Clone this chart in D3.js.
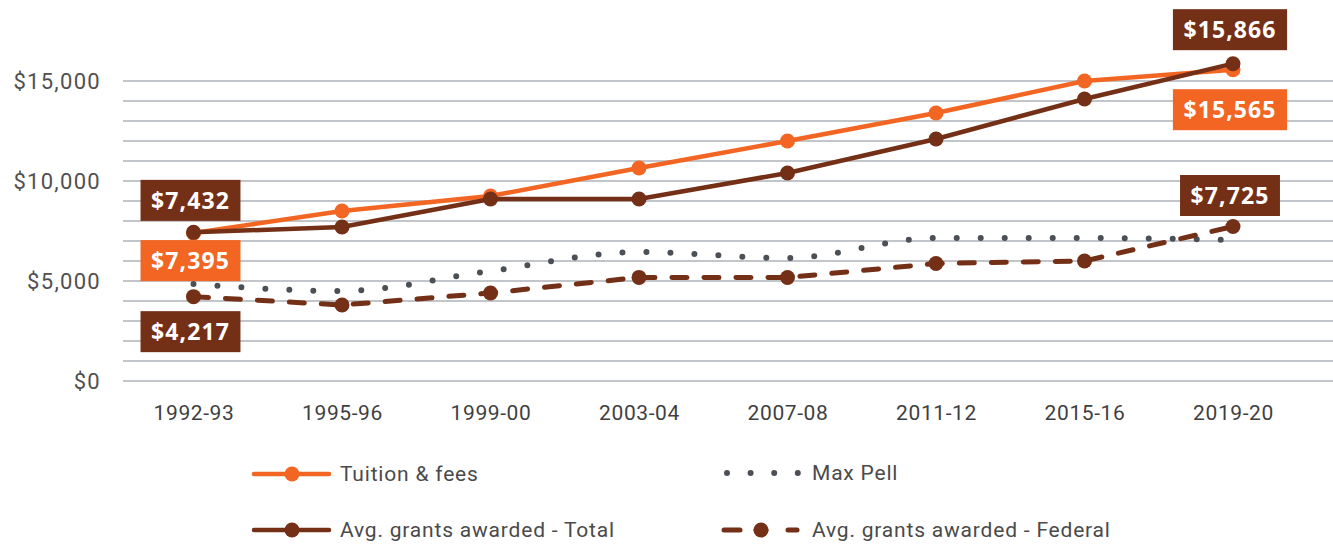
<!DOCTYPE html>
<html>
<head>
<meta charset="utf-8">
<script src="https://cdn.jsdelivr.net/npm/d3@7"></script>
<style>
  html, body { margin: 0; padding: 0; background: #fff; }
  svg { display: block; }
</style>
</head>
<body>
<svg id="chart" width="1333" height="544"></svg>
<script>
// Academic years on the x axis
const years = ["1992-93", "1995-96", "1999-00", "2003-04", "2007-08", "2011-12", "2015-16", "2019-20"];

// Dollar values per year
const tuition = [7395, 8500, 9250, 10650, 12000, 13400, 15000, 15565];
const grantsTotal = [7432, 7700, 9100, 9100, 10400, 12100, 14100, 15866];
const grantsFederal = [4217, 3800, 4400, 5180, 5175, 5875, 6000, 7725];
const maxPell = [4850, 4500, 5500, 6450, 6150, 7150, 7150, 7050];

// Y axis tick labels
const yTicks = [0, 5000, 10000, 15000];

const orange = "#f26522";
const brown = "#742f17";
const pellGray = "#4b5056";
const textGray = "#505050";

const svg = d3.select("#chart");

const x = d3.scalePoint().domain(years).range([193.5, 1233]);
const y = d3.scaleLinear().domain([0, 15000]).range([381, 81]);

// Horizontal gridlines every $1,000
svg.append("g")
  .selectAll("line")
  .data(d3.range(0, 15001, 1000))
  .join("line")
  .attr("x1", 123).attr("x2", 1333)
  .attr("y1", d => y(d)).attr("y2", d => y(d))
  .attr("stroke", "#858c94")
  .attr("stroke-width", 1.2);

// Y axis labels
const fmt = d3.format("$,");
svg.append("g")
  .selectAll("text")
  .data(yTicks)
  .join("text")
  .attr("x", 101)
  .attr("y", d => y(d))
  .attr("dy", "0.35em")
  .attr("text-anchor", "end")
  .attr("font-family", "Roboto, sans-serif")
  .attr("font-size", 22)
  .attr("letter-spacing", 1.3)
  .attr("fill", textGray)
  .text(d => fmt(d));

// X axis labels
const xAxis = d3.axisBottom(x).tickSize(0).tickPadding(0);
const gx = svg.append("g").attr("transform", "translate(0,413)").call(xAxis);
gx.select(".domain").remove();
gx.selectAll("text")
  .attr("dy", "0.35em")
  .attr("font-family", "Roboto, sans-serif")
  .attr("font-size", 21)
  .attr("letter-spacing", 0.6)
  .attr("fill", "#3f3f3f");

const line = d3.line().x((d, i) => x(years[i])).y(d => y(d));
const smooth = d3.line().x((d, i) => x(years[i])).y(d => y(d)).curve(d3.curveMonotoneX);

// Max Pell: dotted, smooth
svg.append("path")
  .datum(maxPell)
  .attr("d", smooth)
  .attr("fill", "none")
  .attr("stroke", pellGray)
  .attr("stroke-width", 6)
  .attr("stroke-linecap", "round")
  .attr("stroke-dasharray", "0 24");

// Federal grants: dashed
svg.append("path")
  .datum(grantsFederal)
  .attr("d", line)
  .attr("fill", "none")
  .attr("stroke", brown)
  .attr("stroke-width", 5)
  .attr("stroke-linecap", "round")
  .attr("stroke-dasharray", "15 17");
svg.append("g").selectAll("circle")
  .data(grantsFederal).join("circle")
  .attr("cx", (d, i) => x(years[i])).attr("cy", d => y(d))
  .attr("r", 7.5).attr("fill", brown);

// Tuition & fees
svg.append("path")
  .datum(tuition)
  .attr("d", line)
  .attr("fill", "none")
  .attr("stroke", orange)
  .attr("stroke-width", 4.5);
svg.append("g").selectAll("circle")
  .data(tuition).join("circle")
  .attr("cx", (d, i) => x(years[i])).attr("cy", d => y(d))
  .attr("r", 7.5).attr("fill", orange);

// Total grants
svg.append("path")
  .datum(grantsTotal)
  .attr("d", line)
  .attr("fill", "none")
  .attr("stroke", brown)
  .attr("stroke-width", 4.5);
svg.append("g").selectAll("circle")
  .data(grantsTotal).join("circle")
  .attr("cx", (d, i) => x(years[i])).attr("cy", d => y(d))
  .attr("r", 7.5).attr("fill", brown);

// Value callouts at first and last years
const callouts = [
  { value: grantsTotal[0], year: years[0], color: brown, dy: -32 },
  { value: tuition[0], year: years[0], color: orange, dy: 27.5 },
  { value: grantsFederal[0], year: years[0], color: brown, dy: 35 },
  { value: grantsTotal[7], year: years[7], color: brown, dy: -34 },
  { value: tuition[7], year: years[7], color: orange, dy: 40 },
  { value: grantsFederal[7], year: years[7], color: brown, dy: -31 }
];
const cg = svg.append("g").selectAll("g").data(callouts).join("g")
  .attr("transform", d => `translate(${x(d.year) - 3},${y(d.value) + d.dy})`);
cg.append("text")
  .attr("text-anchor", "middle")
  .attr("dy", "0.36em")
  .attr("font-family", "'Open Sans', sans-serif")
  .attr("font-weight", 700)
  .attr("font-size", 23)
  .attr("letter-spacing", 1.1)
  .attr("fill", "#fff")
  .text(d => fmt(d.value));
cg.each(function () {
  const g = d3.select(this);
  const bb = g.select("text").node().getBBox();
  g.insert("rect", "text")
    .attr("x", bb.x - 10.5).attr("width", bb.width + 21)
    .attr("y", -20.5).attr("height", 41)
    .attr("fill", g.datum().color);
});

// Legend
const legend = svg.append("g")
  .attr("font-family", "Roboto, sans-serif")
  .attr("font-size", 21)
  .attr("letter-spacing", 0.8)
  .attr("fill", "#4a4a4a");

function legendText(tx, ty, label) {
  legend.append("text").attr("x", tx).attr("y", ty).attr("dy", "0.35em").text(label);
}

// Tuition & fees
legend.append("line").attr("x1", 254).attr("x2", 329).attr("y1", 474).attr("y2", 474)
  .attr("stroke", orange).attr("stroke-width", 4.5).attr("stroke-linecap", "round");
legend.append("circle").attr("cx", 292).attr("cy", 474).attr("r", 7.5).attr("fill", orange);
legendText(340, 474, "Tuition & fees");

// Total grants
legend.append("line").attr("x1", 254).attr("x2", 329).attr("y1", 530).attr("y2", 530)
  .attr("stroke", brown).attr("stroke-width", 4.5).attr("stroke-linecap", "round");
legend.append("circle").attr("cx", 292).attr("cy", 530).attr("r", 7.5).attr("fill", brown);
legendText(340, 530, "Avg. grants awarded - Total");

// Max Pell
legend.append("line").attr("x1", 727).attr("x2", 798).attr("y1", 473).attr("y2", 473)
  .attr("stroke", pellGray).attr("stroke-width", 6).attr("stroke-linecap", "round")
  .attr("stroke-dasharray", "0 23.6");
legendText(812, 473, "Max Pell");

// Federal grants
legend.append("line").attr("x1", 724).attr("x2", 740).attr("y1", 530).attr("y2", 530)
  .attr("stroke", brown).attr("stroke-width", 5).attr("stroke-linecap", "round");
legend.append("line").attr("x1", 756).attr("x2", 766).attr("y1", 530).attr("y2", 530)
  .attr("stroke", brown).attr("stroke-width", 5).attr("stroke-linecap", "round");
legend.append("circle").attr("cx", 761).attr("cy", 530).attr("r", 7.5).attr("fill", brown);
legend.append("line").attr("x1", 788).attr("x2", 797).attr("y1", 530).attr("y2", 530)
  .attr("stroke", brown).attr("stroke-width", 5).attr("stroke-linecap", "round");
legendText(812, 530, "Avg. grants awarded - Federal");
</script>
</body>
</html>
